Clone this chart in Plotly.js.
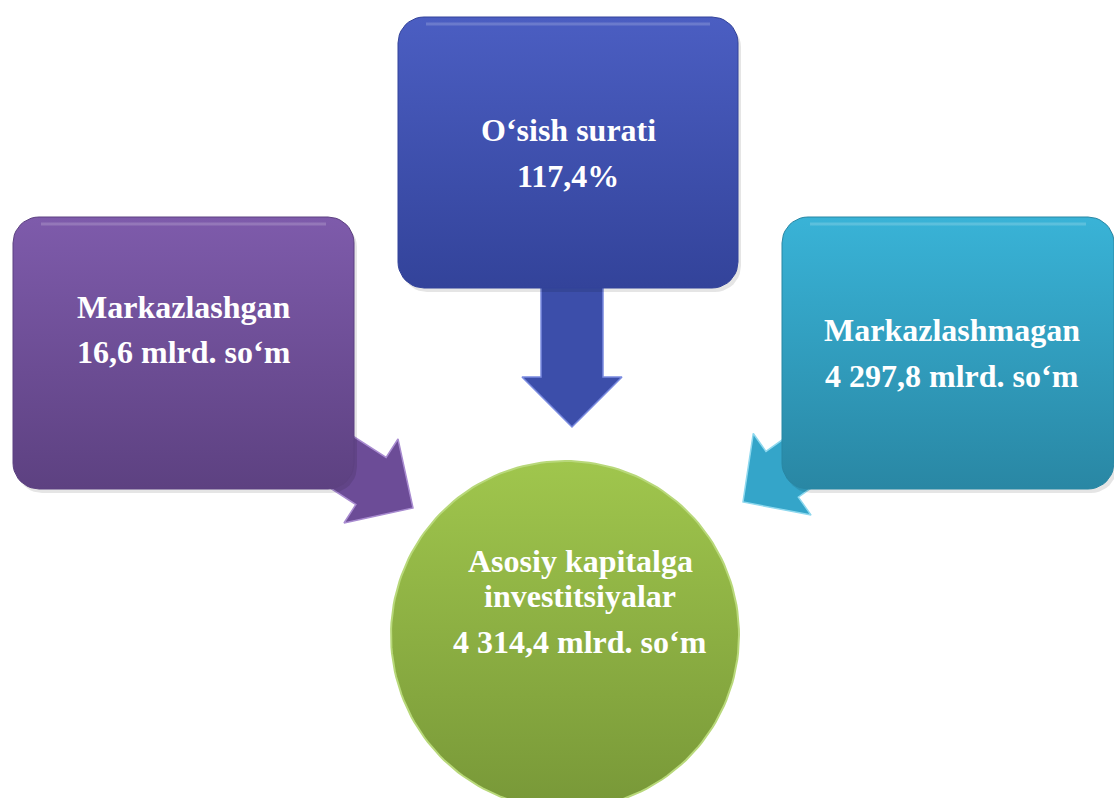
<!DOCTYPE html>
<html>
<head>
<meta charset="utf-8">
<script src="https://cdn.plot.ly/plotly-3.0.1.min.js"></script>
<style>html,body{margin:0;padding:0;background:#fff;}#chart{width:1114px;height:798px;}</style>
</head>
<body>
<div id="chart"></div>
<script>
// ---- data ----
const nodeLabels = ["Markazlashgan", "O‘sish surati", "Markazlashmagan", "Asosiy kapitalga\ninvestitsiyalar"];
const nodeValues = [16.6, 117.4, 4297.8, 4314.4];
const nodeUnits = [" mlrd. so‘m", "%", " mlrd. so‘m", " mlrd. so‘m"];

// ---- styling / layout geometry (pixels) ----
const W = 1114, H = 798;
const boxes = [
  {x0: 13, y0: 217, x1: 354, y1: 489, top: "#7E5BAB", bot: "#5D4181", arrow: "#6C4C97", edge: "#A88BD0",
   tip: [413, 508], dir: [0.84, 0.54], len: 140, shaft: 28, head: 50, headLen: 50,
   cx: 184, lineY: [307, 352]},
  {x0: 398, y0: 17, x1: 738, y1: 288, top: "#4B5EC2", bot: "#33439A", arrow: "#3C4EAA", edge: "#7A8BE0",
   tip: [572, 427], dir: [0, 1], len: 200, shaft: 31, head: 50, headLen: 50,
   cx: 568, lineY: [130, 176]},
  {x0: 782, y0: 217, x1: 1114, y1: 489, top: "#39B3D7", bot: "#2987A4", arrow: "#34A5C9", edge: "#8ED8EE",
   tip: [743, 502], dir: [-0.816, 0.578], len: 150, shaft: 28, head: 50, headLen: 48,
   cx: 952, lineY: [330, 376]}
];
const circle = {cx: 565, cy: 635, r: 174, top: "#A0C64D", bot: "#789838", textX: 580, lineY: [561, 596, 642]};
const fontFamily = "'Liberation Serif', 'Times New Roman', serif";
const fontSize = 32;

function fmt(v, unit) {
  const parts = v.toFixed(1).split(".");
  const intPart = parts[0].replace(/\B(?=(\d{3})+(?!\d))/g, " ");
  return intPart + "," + parts[1] + unit;
}

function roundedRect(x0, y0, x1, y1, r) {
  const xs = [], ys = [];
  const corners = [
    [x1 - r, y0 + r, -90, 0],
    [x1 - r, y1 - r, 0, 90],
    [x0 + r, y1 - r, 90, 180],
    [x0 + r, y0 + r, 180, 270]
  ];
  corners.forEach(([cx, cy, a0, a1]) => {
    for (let i = 0; i <= 10; i++) {
      const a = (a0 + (a1 - a0) * i / 10) * Math.PI / 180;
      xs.push(cx + r * Math.cos(a));
      ys.push(cy + r * Math.sin(a));
    }
  });
  xs.push(xs[0]); ys.push(ys[0]);
  return {xs, ys};
}

function arrowPoly(b) {
  const [tx, ty] = b.tip, [dx, dy] = b.dir;
  const nx = -dy, ny = dx;
  const bx = tx - dx * b.len, by = ty - dy * b.len;
  const kx = tx - dx * b.headLen, ky = ty - dy * b.headLen;
  const pts = [
    [bx + nx * b.shaft, by + ny * b.shaft],
    [kx + nx * b.shaft, ky + ny * b.shaft],
    [kx + nx * b.head, ky + ny * b.head],
    [tx, ty],
    [kx - nx * b.head, ky - ny * b.head],
    [kx - nx * b.shaft, ky - ny * b.shaft],
    [bx - nx * b.shaft, by - ny * b.shaft]
  ];
  pts.push(pts[0]);
  return {xs: pts.map(p => p[0]), ys: pts.map(p => p[1])};
}

const traces = [];
// arrows (under the boxes)
boxes.forEach(b => {
  const a = arrowPoly(b);
  traces.push({type: "scatter", mode: "lines", x: a.xs, y: a.ys, fill: "toself",
    fillcolor: b.arrow, line: {color: b.edge, width: 1.5}, hoverinfo: "skip"});
});
// shadows + boxes
boxes.forEach(b => {
  const s = roundedRect(b.x0 + 3, b.y0 + 4, b.x1 + 3, b.y1 + 4, 26);
  traces.push({type: "scatter", mode: "lines", x: s.xs, y: s.ys, fill: "toself",
    fillcolor: "rgba(0,0,0,0.10)", line: {width: 0}, hoverinfo: "skip"});
  const r = roundedRect(b.x0, b.y0, b.x1, b.y1, 26);
  traces.push({type: "scatter", mode: "lines", x: r.xs, y: r.ys, fill: "toself",
    fillgradient: {type: "vertical", colorscale: [[0, b.top], [1, b.bot]], start: b.y0, stop: b.y1},
    line: {color: b.bot, width: 1}, hoverinfo: "skip"});
  traces.push({type: "scatter", mode: "lines", x: [b.x0 + 28, b.x1 - 28], y: [b.y0 + 7, b.y0 + 7],
    line: {color: "rgba(255,255,255,0.18)", width: 3}, hoverinfo: "skip"});
});
// circle
(function () {
  const xs = [], ys = [];
  for (let i = 0; i <= 180; i++) {
    const a = 2 * Math.PI * i / 180;
    xs.push(circle.cx + circle.r * Math.cos(a));
    ys.push(circle.cy + circle.r * Math.sin(a));
  }
  traces.push({type: "scatter", mode: "lines", x: xs, y: ys, fill: "toself",
    fillgradient: {type: "vertical", colorscale: [[0, circle.top], [1, circle.bot]],
      start: circle.cy - circle.r, stop: circle.cy + circle.r},
    line: {color: "#B8D87A", width: 2}, hoverinfo: "skip"});
})();

// text
const annotations = [];
function addLine(x, y, text) {
  annotations.push({x: x, y: y, xref: "x", yref: "y", text: text, showarrow: false,
    xanchor: "center", yanchor: "middle",
    font: {family: fontFamily, size: fontSize, color: "#FFFFFF", weight: "bold"}});
}
boxes.forEach((b, i) => {
  addLine(b.cx, b.lineY[0], nodeLabels[i]);
  addLine(b.cx, b.lineY[1], fmt(nodeValues[i], nodeUnits[i]));
});
const cLines = nodeLabels[3].split("\n").concat([fmt(nodeValues[3], nodeUnits[3])]);
cLines.forEach((t, i) => addLine(circle.textX, circle.lineY[i], t));

const layout = {
  width: W, height: H,
  margin: {l: 0, r: 0, t: 0, b: 0, pad: 0},
  paper_bgcolor: "#FFFFFF", plot_bgcolor: "#FFFFFF",
  showlegend: false, hovermode: false,
  xaxis: {range: [0, W], visible: false, fixedrange: true},
  yaxis: {range: [H, 0], visible: false, fixedrange: true},
  annotations: annotations
};
Plotly.newPlot("chart", traces, layout, {displayModeBar: false, staticPlot: true});
</script>
</body>
</html>
